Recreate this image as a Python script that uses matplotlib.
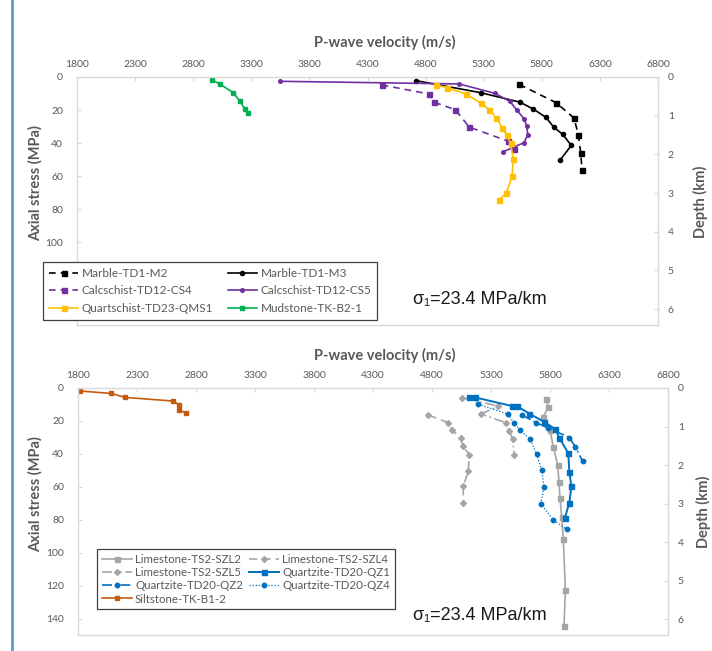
import matplotlib
matplotlib.use("Agg")
import matplotlib.pyplot as plt
from matplotlib.lines import Line2D

# ---------------- data: P-wave velocity (m/s) vs axial stress (MPa) ----------------
# upper panel
m2_v = [5606, 5922, 6077, 6114, 6135, 6146]
m2_s = [4.5, 15.5, 24.8, 34.8, 46.0, 56.0]

m3_v = [4717, 5274, 5612, 5727, 5836, 5902, 5980, 6054, 5957]
m3_s = [2.2, 9.5, 15.2, 19.4, 24.4, 30.3, 34.7, 41.4, 50.3]

cs4_v = [4422, 4832, 4872, 5056, 5176, 5509, 5563]
cs4_s = [4.8, 10.3, 15.2, 19.8, 30.3, 38.8, 43.6]

cs5_v = [3550, 5090, 5397, 5526, 5584, 5647, 5670, 5679, 5647, 5469]
cs5_s = [2.6, 4.2, 9.9, 14.8, 20.0, 25.2, 29.7, 34.8, 39.7, 45.2]

qms1_v = [4889, 4984, 5148, 5274, 5348, 5410, 5458, 5498, 5531, 5555, 5544, 5496, 5434]
qms1_s = [4.8, 6.4, 10.3, 15.8, 19.7, 24.8, 30.6, 35.2, 40.0, 49.7, 60.0, 70.0, 74.4]

mud_v = [2962, 3033, 3145, 3200, 3246, 3274]
mud_s = [1.8, 4.4, 9.5, 14.5, 19.4, 21.6]

# lower panel
szl2_v = [5764, 5786, 5744, 5800, 5828, 5865, 5876, 5885, 5899, 5913, 5930, 5919]
szl2_s = [6.4, 11.4, 17.5, 25.5, 35.7, 46.8, 56.9, 67.1, 78.3, 91.5, 122.5, 144.3]

szl4_v = [4769, 4938, 4972, 5043, 5065, 5116, 5107, 5065, 5065]
szl4_s = [16.4, 21.1, 25.5, 30.6, 35.5, 40.5, 50.7, 59.8, 70.0]

szl5_v = [5058, 5363, 5216, 5427, 5455, 5483, 5497]
szl5_s = [5.9, 11.0, 15.8, 21.1, 25.9, 31.0, 40.7]

qz1_v = [5116, 5165, 5476, 5518, 5625, 5749, 5845, 5879, 5955, 5964, 5981, 5964, 5927]
qz1_s = [5.7, 5.7, 10.9, 10.9, 15.6, 20.5, 25.0, 30.2, 39.7, 51.0, 59.8, 69.6, 78.7]

qz2_v = [5560, 5682, 5783, 5964, 6016, 6077]
qz2_s = [16.4, 21.0, 24.3, 30.1, 35.9, 44.6]

qz4_v = [5193, 5447, 5492, 5548, 5631, 5687, 5730, 5749, 5722, 5828, 5942]
qz4_s = [9.9, 15.9, 21.1, 25.7, 31.0, 40.3, 50.0, 60.2, 70.2, 80.2, 85.9]

silt_v = [1817, 2080, 2198, 2603, 2656, 2656, 2718]
silt_s = [1.8, 3.3, 5.7, 7.9, 10.2, 13.2, 15.4]

x_ticks = [1800, 2300, 2800, 3300, 3800, 4300, 4800, 5300, 5800, 6300, 6800]
gradient = 23.4  # MPa per km

# ---------------- styling ----------------
BLACK = "#000000"
PURPLE = "#7030a0"
YELLOW = "#ffc000"
GREEN = "#00b050"
GRAY = "#a5a5a5"
BLUE = "#0070c0"
BROWN = "#c55a11"
TXT = "#595959"
GRID = "#d9d9d9"

plt.rcParams["font.family"] = ["Lato", "DejaVu Sans"]

fig = plt.figure(figsize=(7.12, 6.51), dpi=100)
W, H = 712.0, 651.0


def px_axes(l, t, r, b):
    return fig.add_axes([l / W, 1 - b / H, (r - l) / W, (b - t) / H])


def style_axes(ax, yticks):
    ax.set_xlim(1800, 6800)
    ax.set_ylim(150, 0)
    ax.xaxis.tick_top()
    ax.set_xticks(x_ticks)
    ax.set_yticks(yticks)
    ax.tick_params(axis="x", direction="in", length=3, color=GRID, labelsize=7.5,
                   labelcolor=TXT, pad=6)
    ax.tick_params(axis="y", direction="in", length=3, color=GRID, labelsize=7.5,
                   labelcolor=TXT, pad=10)
    for sp in ax.spines.values():
        sp.set_color(GRID)
        sp.set_linewidth(1.0)
    sec = ax.secondary_yaxis("right", functions=(lambda s: s / gradient,
                                                 lambda d: d * gradient))
    sec.set_yticks(range(0, 7))
    sec.tick_params(direction="in", length=3, color=GRID, labelsize=7.5,
                    labelcolor=TXT, pad=7)
    sec.spines["right"].set_color(GRID)
    return sec


def series(ax, v, s, color, ls="-", marker="s", ms=3.6, lw=1.2, label=None):
    return ax.plot(v, s, color=color, ls=ls, lw=lw, marker=marker, ms=ms,
                   mec=color, mfc=color, label=label)[0]


# ---------------- upper panel ----------------
ax1 = px_axes(77, 77, 658, 325)
style_axes(ax1, range(0, 141, 20))

h_m2 = series(ax1, m2_v, m2_s, BLACK, ls=(0, (4, 3)), marker="s", label="Marble-TD1-M2")
h_m3 = series(ax1, m3_v, m3_s, BLACK, marker="o", ms=3.0, label="Marble-TD1-M3")
h_cs4 = series(ax1, cs4_v, cs4_s, PURPLE, ls=(0, (4, 3)), marker="s", label="Calcschist-TD12-CS4")
h_cs5 = series(ax1, cs5_v, cs5_s, PURPLE, marker="o", ms=2.6, label="Calcschist-TD12-CS5")
h_qms = series(ax1, qms1_v, qms1_s, YELLOW, marker="s", label="Quartschist-TD23-QMS1")
h_mud = series(ax1, mud_v, mud_s, GREEN, marker="s", ms=3.3, label="Mudstone-TK-B2-1")

leg1 = ax1.legend(handles=[h_m2, h_cs4, h_qms, h_m3, h_cs5, h_mud], ncol=2,
                  loc="upper left", bbox_to_anchor=(43 / W, 1 - 262 / H),
                  bbox_transform=fig.transFigure, borderaxespad=0, fancybox=False,
                  frameon=True, edgecolor="#404040", fontsize=8.5, handlelength=2.5,
                  handletextpad=0.3, columnspacing=1.2, labelspacing=0.55,
                  borderpad=0.5, labelcolor=TXT, framealpha=1)
leg1.get_frame().set_linewidth(0.9)
leg1.set_zorder(10)

# ---------------- lower panel ----------------
ax2 = px_axes(78, 388, 668, 635)
style_axes(ax2, range(0, 141, 20))

h_szl2 = series(ax2, szl2_v, szl2_s, GRAY, marker="s", label="Limestone-TS2-SZL2")
h_szl4 = series(ax2, szl4_v, szl4_s, GRAY, ls=(0, (5, 3)), marker="D", ms=3.0, label="Limestone-TS2-SZL4")
h_szl5 = series(ax2, szl5_v, szl5_s, GRAY, ls=(0, (6, 2, 1, 2, 1, 2)), marker="D", ms=3.0, label="Limestone-TS2-SZL5")
h_qz1 = series(ax2, qz1_v, qz1_s, BLUE, marker="s", lw=1.4, label="Quartzite-TD20-QZ1")
h_qz2 = series(ax2, qz2_v, qz2_s, BLUE, ls=(0, (6, 2, 1, 2)), marker="o", ms=3.2, label="Quartzite-TD20-QZ2")
h_qz4 = series(ax2, qz4_v, qz4_s, BLUE, ls=(0, (1, 1.5)), lw=0.9, marker="o", ms=3.2, label="Quartzite-TD20-QZ4")
h_silt = series(ax2, silt_v, silt_s, BROWN, marker="s", ms=3.3, label="Siltstone-TK-B1-2")

leg2 = ax2.legend(handles=[h_szl2, h_szl5, h_qz2, h_silt, h_szl4, h_qz1, h_qz4], ncol=2,
                  loc="upper left", bbox_to_anchor=(97 / W, 1 - 549 / H),
                  bbox_transform=fig.transFigure, borderaxespad=0, fancybox=False,
                  frameon=True, edgecolor="#404040", fontsize=8.3, handlelength=2.6,
                  handletextpad=0.3, columnspacing=0.5, labelspacing=0.2,
                  borderpad=0.4, labelcolor=TXT, framealpha=1)
leg2.get_frame().set_linewidth(0.9)
leg2.set_zorder(10)

# ---------------- titles and annotations ----------------
lab = dict(fontsize=10.5, fontweight="bold", color=TXT)
fig.text(385 / W, 1 - 42 / H, "P-wave velocity (m/s)", ha="center", va="center", **lab)
fig.text(385 / W, 1 - 355 / H, "P-wave velocity (m/s)", ha="center", va="center", **lab)
fig.text(35 / W, 1 - 183 / H, "Axial stress (MPa)", ha="center", va="center", rotation=90, **lab)
fig.text(35 / W, 1 - 494 / H, "Axial stress (MPa)", ha="center", va="center", rotation=90, **lab)
fig.text(700 / W, 1 - 202 / H, "Depth (km)", ha="center", va="center", rotation=90, **lab)
fig.text(703 / W, 1 - 512 / H, "Depth (km)", ha="center", va="center", rotation=90, **lab)

ann = dict(fontsize=13, color="#1a1a1a", family=["Liberation Sans", "DejaVu Sans"],
           ha="left", va="center")
fig.text(413 / W, 1 - 300 / H, "σ\u2081=23.4 MPa/km", **ann)
fig.text(413 / W, 1 - 615 / H, "σ\u2081=23.4 MPa/km", **ann)

# left frame line
fig.add_artist(Line2D([12 / W, 12 / W], [0, 1], transform=fig.transFigure,
                      color="#5b9bd5", lw=2))

fig.savefig("out.png", dpi=100)
